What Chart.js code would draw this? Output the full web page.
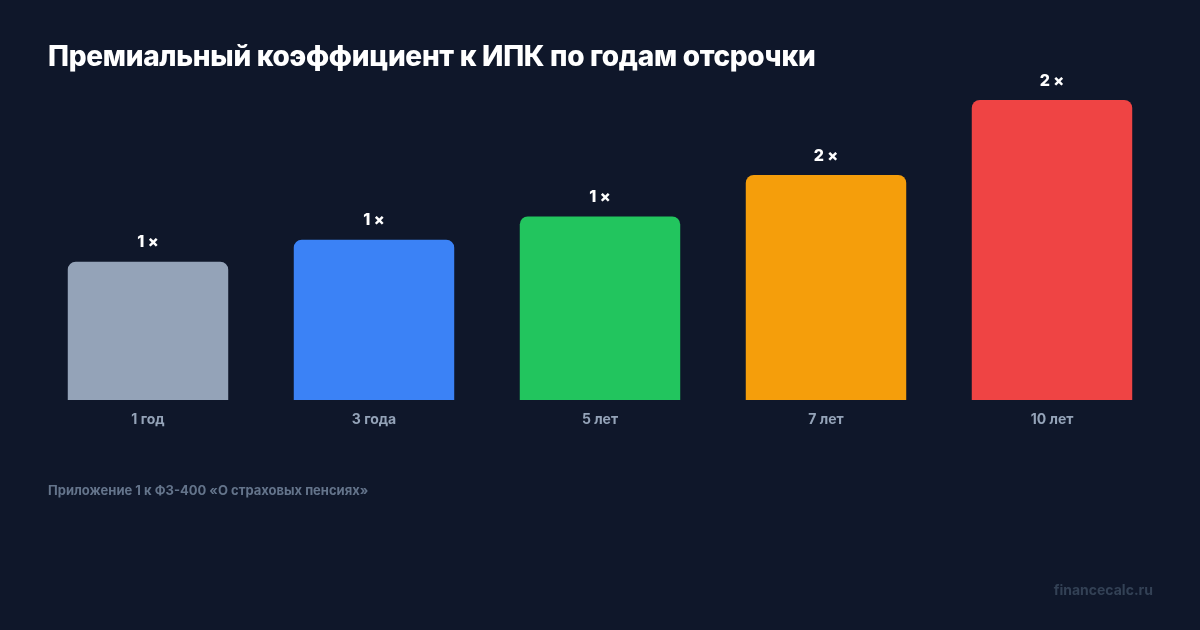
<!DOCTYPE html>
<html>
<head>
<meta charset="utf-8">
<script src="https://cdn.jsdelivr.net/npm/chart.js@4.4.0/dist/chart.umd.min.js"></script>
<style>
    html, body {
        margin: 0;
        padding: 0;
        background: #0f172a;
        font-family: Inter, "Noto Sans", sans-serif;
    }
    #wrap {
        position: relative;
        width: 1200px;
        height: 630px;
        overflow: hidden;
    }
    #chartBox {
        position: absolute;
        left: 0;
        top: 0;
        width: 1200px;
        height: 630px;
    }
    .title {
        position: absolute;
        left: 48px;
        top: 39px;
        color: #ffffff;
        font-size: 28px;
        font-weight: 800;
        letter-spacing: -0.3px;
    }
    .note {
        position: absolute;
        left: 48px;
        top: 482px;
        color: #64748b;
        font-size: 13px;
        font-weight: 700;
    }
    .brand {
        position: absolute;
        right: 47px;
        top: 581px;
        color: #334155;
        font-size: 14px;
        font-weight: 700;
    }
</style>
</head>
<body>
<div id="wrap">
    <div id="chartBox"><canvas id="ipkChart" width="1200" height="630"></canvas></div>
    <div class="title">Премиальный коэффициент к ИПК по годам отсрочки</div>
    <div class="note">Приложение 1 к ФЗ-400 «О страховых пенсиях»</div>
    <div class="brand">financecalc.ru</div>
</div>
<script>
// years of deferral and the IPK premium coefficient
const categories = ['1 год', '3 года', '5 лет', '7 лет', '10 лет'];
const coefficients = [1.07, 1.24, 1.42, 1.74, 2.32];
const barColors = ['#94a3b8', '#3b82f6', '#22c55e', '#f59e0b', '#ef4444'];

// value labels above the bars
const valueLabels = {
    id: 'valueLabels',
    afterDatasetsDraw(chart) {
        const ctx = chart.ctx;
        const meta = chart.getDatasetMeta(0);
        ctx.save();
        ctx.fillStyle = '#ffffff';
        ctx.font = '800 16px Inter, "Noto Sans", sans-serif';
        ctx.textAlign = 'center';
        ctx.textBaseline = 'middle';
        meta.data.forEach((bar, i) => {
            const text = Math.round(coefficients[i]) + ' ×';
            ctx.fillText(text, bar.x, bar.y - 19);
        });
        ctx.restore();
    }
};

const ctx = document.getElementById('ipkChart').getContext('2d');
const chart = new Chart(ctx, {
    type: 'bar',
    data: {
        labels: categories,
        datasets: [{
            data: coefficients,
            backgroundColor: barColors,
            borderRadius: { topLeft: 8, topRight: 8, bottomLeft: 0, bottomRight: 0 },
            borderSkipped: false,
            categoryPercentage: 0.71,
            barPercentage: 1.0
        }]
    },
    options: {
        responsive: false,
        animation: false,
        layout: {
            padding: { left: 35, right: 35, top: 100, bottom: 200 }
        },
        plugins: {
            legend: { display: false },
            tooltip: { enabled: false }
        },
        scales: {
            x: {
                grid: { display: false, drawTicks: false },
                border: { display: false },
                ticks: {
                    color: '#94a3b8',
                    padding: 11,
                    font: { family: 'Inter', size: 14, weight: '700' }
                },
                afterFit(scale) {
                    scale.height = 30;
                }
            },
            y: {
                display: false,
                min: 0,
                max: 2.32
            }
        }
    },
    plugins: [valueLabels]
});
</script>
</body>
</html>
